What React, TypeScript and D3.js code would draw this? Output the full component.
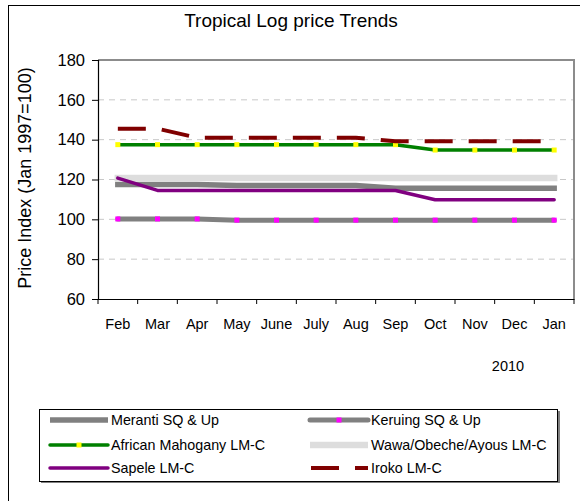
import React, { useEffect, useRef } from "react";
import * as d3 from "d3";

const months = ["Feb", "Mar", "Apr", "May", "June", "July", "Aug", "Sep", "Oct", "Nov", "Dec", "Jan"];
const meranti = [117.5, 117.5, 117.5, 117, 117, 117, 117, 115.6, 115.6, 115.6, 115.6, 115.6];
const keruing = [100.2, 100.2, 100.2, 99.6, 99.6, 99.6, 99.6, 99.6, 99.6, 99.6, 99.6, 99.6];
const mahogany = [137.5, 137.5, 137.5, 137.5, 137.5, 137.5, 137.5, 137.5, 134.8, 134.8, 134.8, 134.8];
const wawa = [120.7, 120.7, 120.7, 120.7, 120.7, 120.7, 120.7, 120.7, 120.7, 120.7, 120.7, 120.7];
const sapele = [120.7, 114.5, 114.5, 114.5, 114.5, 114.5, 114.5, 114.5, 109.8, 109.8, 109.8, 109.8];
const iroko = [145.5, 145.5, 141, 141, 141, 141, 141, 139.2, 139.2, 139.2, 139.2, 139.2];
const yTicks = [60, 80, 100, 120, 140, 160, 180];

const seriesNames = [
  "Meranti SQ & Up",
  "Keruing SQ & Up",
  "African Mahogany LM-C",
  "Wawa/Obeche/Ayous LM-C",
  "Sapele LM-C",
  "Iroko LM-C",
];

const styles: any = {
  "Meranti SQ & Up": { color: "#808080", width: 5.5, cap: "square" },
  "Keruing SQ & Up": { color: "#808080", width: 5, cap: "round", marker: "#ff00ff" },
  "African Mahogany LM-C": { color: "#008000", width: 3.5, cap: "round", marker: "#ffff00" },
  "Wawa/Obeche/Ayous LM-C": { color: "#dddddd", width: 6.5, cap: "square" },
  "Sapele LM-C": { color: "#800080", width: 3.5, cap: "round" },
  "Iroko LM-C": { color: "#800000", width: 4, cap: "butt", dash: "28,16" },
};

const FONT = "Liberation Sans, Arial, sans-serif";

const App = () => {
  const svgRef = useRef<SVGSVGElement>(null);

  useEffect(() => {
    const values = [meranti, keruing, mahogany, wawa, sapele, iroko];
    const data = seriesNames.map((name, i) => ({ name, values: values[i] }));

    const svg = d3.select(svgRef.current);
    svg.selectAll("*").remove();

    const left = 98, right = 574, top = 60, bottom = 299;

    // outer chart border (right/bottom fall outside the picture)
    svg.append("rect")
      .attr("x", 8.5).attr("y", 5.5)
      .attr("width", 700).attr("height", 700)
      .attr("fill", "#fff")
      .attr("stroke", "#000")
      .attr("stroke-width", 1);

    svg.append("text")
      .attr("x", 291).attr("y", 27)
      .attr("text-anchor", "middle")
      .style("font-family", FONT)
      .style("font-size", "19px")
      .text("Tropical Log price Trends");

    const x = d3.scaleBand().domain(months).range([left, right]).paddingInner(0).paddingOuter(0);
    const y = d3.scaleLinear().domain([60, 180]).range([bottom, top]);

    // gridlines
    svg.append("g")
      .selectAll("line")
      .data(yTicks.filter(t => t > 60 && t < 180))
      .enter()
      .append("line")
      .attr("x1", left).attr("x2", right)
      .attr("y1", d => y(d)).attr("y2", d => y(d))
      .attr("stroke", "#c8c8c8")
      .attr("stroke-dasharray", "6,5")
      .attr("stroke-width", 1);

    // top and right frame
    svg.append("path")
      .attr("d", `M${left},${top}H${right}V${bottom}`)
      .attr("fill", "none")
      .attr("stroke", "#8c8c8c")
      .attr("stroke-width", 2);

    // y axis
    const yAxis = svg.append("g")
      .attr("transform", `translate(${left},0)`)
      .call(d3.axisLeft(y).tickValues(yTicks).tickSize(6).tickPadding(7));
    yAxis.select(".domain").attr("stroke", "#000").attr("stroke-width", 1.2);
    yAxis.selectAll("text")
      .style("font-family", FONT)
      .style("font-size", "16.5px")
      .attr("fill", "#000");

    // x axis
    const xAxis = svg.append("g")
      .attr("transform", `translate(0,${bottom})`)
      .call(d3.axisBottom(x).tickSize(0).tickPadding(20));
    xAxis.select(".domain").attr("stroke", "#000").attr("stroke-width", 1.2);
    xAxis.selectAll("text")
      .style("font-family", FONT)
      .style("font-size", "14.5px")
      .attr("fill", "#000");
    xAxis.selectAll(".boundary")
      .data(d3.range(months.length + 1))
      .enter()
      .append("line")
      .attr("x1", i => left + i * x.bandwidth())
      .attr("x2", i => left + i * x.bandwidth())
      .attr("y1", 0).attr("y2", 5)
      .attr("stroke", "#000");

    svg.append("text")
      .attr("x", 508).attr("y", 371)
      .attr("text-anchor", "middle")
      .style("font-family", FONT)
      .style("font-size", "14.5px")
      .text("2010");

    svg.append("text")
      .attr("transform", "translate(31,178) rotate(-90)")
      .attr("text-anchor", "middle")
      .style("font-family", FONT)
      .style("font-size", "18px")
      .text("Price Index (Jan 1997=100)");

    const line = d3.line<number>()
      .x((d, i) => (x(months[i]) as number) + x.bandwidth() / 2)
      .y(d => y(d));

    data.forEach(s => {
      const st = styles[s.name];
      svg.append("path")
        .datum(s.values)
        .attr("fill", "none")
        .attr("stroke", st.color)
        .attr("stroke-width", st.width)
        .attr("stroke-linecap", st.cap)
        .attr("stroke-linejoin", "round")
        .attr("stroke-dasharray", st.dash || null)
        .attr("d", line);
      if (st.marker) {
        svg.append("g")
          .selectAll("rect")
          .data(s.values)
          .enter()
          .append("rect")
          .attr("x", (d, i) => (x(months[i]) as number) + x.bandwidth() / 2 - 2.5)
          .attr("y", d => y(d) - 2.5)
          .attr("width", 5).attr("height", 5)
          .attr("fill", st.marker);
      }
    });

    // Legend
    const lg = svg.append("g");
    lg.append("rect")
      .attr("x", 41).attr("y", 411).attr("width", 519).attr("height", 72)
      .attr("fill", "#808080");
    lg.append("rect")
      .attr("x", 39.5).attr("y", 409.5).attr("width", 518).attr("height", 72)
      .attr("fill", "#fff").attr("stroke", "#000").attr("stroke-width", 1);

    const rowY = [420, 445, 468];
    seriesNames.forEach((name, i) => {
      const st = styles[name];
      const col = i % 2, row = Math.floor(i / 2);
      const x0 = col === 0 ? 50 : 310;
      const x1 = col === 0 ? 108 : 368;
      const yy = rowY[row];
      const g = lg.append("g");
      g.append("line")
        .attr("x1", st.dash ? x0 + 1 : x0).attr("x2", x1)
        .attr("y1", yy).attr("y2", yy)
        .attr("stroke", st.color)
        .attr("stroke-width", st.width)
        .attr("stroke-linecap", st.cap === "square" ? "butt" : st.cap)
        .attr("stroke-dasharray", st.dash || null);
      if (st.marker) {
        g.append("rect")
          .attr("x", (x0 + x1) / 2 - 2.5).attr("y", yy - 2.5)
          .attr("width", 5).attr("height", 5)
          .attr("fill", st.marker);
      }
      g.append("text")
        .attr("x", x1 + 3).attr("y", yy + 5)
        .style("font-family", FONT)
        .style("font-size", "14.3px")
        .text(name);
    });
  }, []);

  return (
    <svg
      ref={svgRef}
      width={580}
      height={501}
      style={{ position: "absolute", left: 0, top: 0, background: "#fff" }}
    ></svg>
  );
};

export default App;
